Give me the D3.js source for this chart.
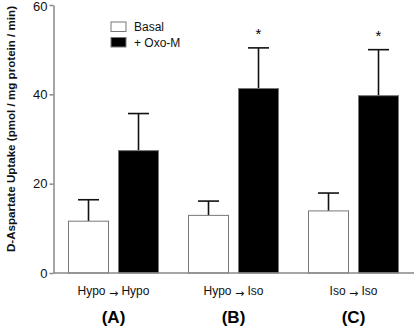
<!DOCTYPE html>
<html>
<head>
<meta charset="utf-8">
<script src="https://cdn.jsdelivr.net/npm/d3@7"></script>
<style>
  body { margin: 0; background: #fff; }
  text { font-family: Arial, "Liberation Sans", sans-serif; }
</style>
</head>
<body>
<div id="chart"></div>
<script>
const groups = ["A", "B", "C"];
const from = ["Hypo", "Hypo", "Iso"];
const to = ["Hypo", "Iso", "Iso"];
const series = ["Basal", "+ Oxo-M"];
const basal = [11.6, 12.9, 13.9];
const basalErr = [4.8, 3.2, 4.0];
const oxo = [27.4, 41.3, 39.7];
const oxoErr = [8.3, 9.1, 10.3];
const significant = [false, true, true];
const yTicks = [0, 20, 40, 60];

let width = 414, height = 327;
let margin = {top: 5, left: 53.5, right: 0.5, bottom: 54};

let svg = d3.select("#chart").append("svg")
  .attr("width", width).attr("height", height);

let y = d3.scaleLinear().domain([0, 60]).range([height - margin.bottom, margin.top]);
let x = d3.scaleBand().domain(groups).range([margin.left, width - margin.right]);
let xs = d3.scaleBand().domain(series).range([15, 105]).paddingInner(0.2);

let rows = [];
groups.forEach((g, i) => {
  rows.push({g: g, s: series[0], v: basal[i], e: basalErr[i], star: false});
  rows.push({g: g, s: series[1], v: oxo[i], e: oxoErr[i], star: significant[i]});
});

// error bars (upper only)
let eb = svg.append("g");
eb.selectAll("line.stem").data(rows).join("line")
  .attr("x1", d => x(d.g) + xs(d.s) + xs.bandwidth() / 2)
  .attr("x2", d => x(d.g) + xs(d.s) + xs.bandwidth() / 2)
  .attr("y1", d => y(d.v)).attr("y2", d => y(d.v + d.e))
  .attr("stroke", "#111").attr("stroke-width", 1.6);
eb.selectAll("line.cap").data(rows).join("line")
  .attr("x1", d => x(d.g) + xs(d.s) + xs.bandwidth() / 2 - 10.5)
  .attr("x2", d => x(d.g) + xs(d.s) + xs.bandwidth() / 2 + 10.5)
  .attr("y1", d => y(d.v + d.e)).attr("y2", d => y(d.v + d.e))
  .attr("stroke", "#111").attr("stroke-width", 1.6);

// bars
svg.append("g").selectAll("rect").data(rows).join("rect")
  .attr("x", d => x(d.g) + xs(d.s))
  .attr("y", d => y(d.v))
  .attr("width", xs.bandwidth())
  .attr("height", d => y(0) - y(d.v))
  .attr("fill", d => d.s == "Basal" ? "#fff" : "#000")
  .attr("stroke", "#777").attr("stroke-width", 1);

// stars
svg.append("g").selectAll("text").data(rows.filter(d => d.star)).join("text")
  .attr("x", d => x(d.g) + xs(d.s) + xs.bandwidth() / 2)
  .attr("y", d => y(d.v + d.e) - 9)
  .attr("text-anchor", "middle")
  .attr("font-size", 15)
  .text("*");

// y axis
let yAxis = svg.append("g")
  .attr("transform", "translate(" + margin.left + ",0)")
  .call(d3.axisLeft(y).tickValues(yTicks).tickSize(4).tickSizeOuter(0));
yAxis.select(".domain").attr("stroke", "#888").attr("stroke-width", 1.5);
yAxis.selectAll(".tick line").attr("stroke", "#888").attr("stroke-width", 1.5);
yAxis.selectAll(".tick text").attr("font-size", 13).attr("fill", "#111")
  .attr("font-family", "Arial, 'Liberation Sans', sans-serif").attr("x", -6)
  .attr("dy", d => d == 60 ? "0.4em" : "0.32em");

// x axis line
svg.append("line")
  .attr("x1", margin.left).attr("x2", width)
  .attr("y1", y(0)).attr("y2", y(0))
  .attr("stroke", "#888").attr("stroke-width", 1.5);

// x labels
let xl = svg.append("g");
groups.forEach((g, i) => {
  let t = xl.append("text")
    .attr("x", x(g) + x.bandwidth() / 2)
    .attr("y", 295)
    .attr("text-anchor", "middle")
    .attr("font-size", 12).attr("fill", "#111");
  t.append("tspan").text(from[i] + " ");
  t.append("tspan").attr("font-size", 11).attr("dy", 1.5)
    .attr("font-family", "'DejaVu Sans', sans-serif").text("\u2192");
  t.append("tspan").attr("dy", -1.5).text(" " + to[i]);
  xl.append("text")
    .attr("x", x(g) + x.bandwidth() / 2)
    .attr("y", 323)
    .attr("text-anchor", "middle")
    .attr("font-size", 17).attr("font-weight", "bold")
    .text("(" + g + ")");
});

// y label
svg.append("text")
  .attr("transform", "translate(15," + 129 + ") rotate(-90)")
  .attr("text-anchor", "middle")
  .attr("font-size", 11.6).attr("font-weight", "bold").attr("fill", "#111")
  .text("D-Aspartate Uptake (pmol / mg protein / min)");

// legend
let lg = svg.append("g").attr("transform", "translate(111,22)");
series.forEach((s, i) => {
  lg.append("rect")
    .attr("x", 0).attr("y", i * 15.5)
    .attr("width", 15).attr("height", 9.5)
    .attr("fill", i == 0 ? "#fff" : "#000")
    .attr("stroke", "#777").attr("stroke-width", 1);
  lg.append("text")
    .attr("x", 23).attr("y", i * 15.5 + 9)
    .attr("font-size", 12).attr("fill", "#111")
    .text(s);
});
</script>
</body>
</html>
